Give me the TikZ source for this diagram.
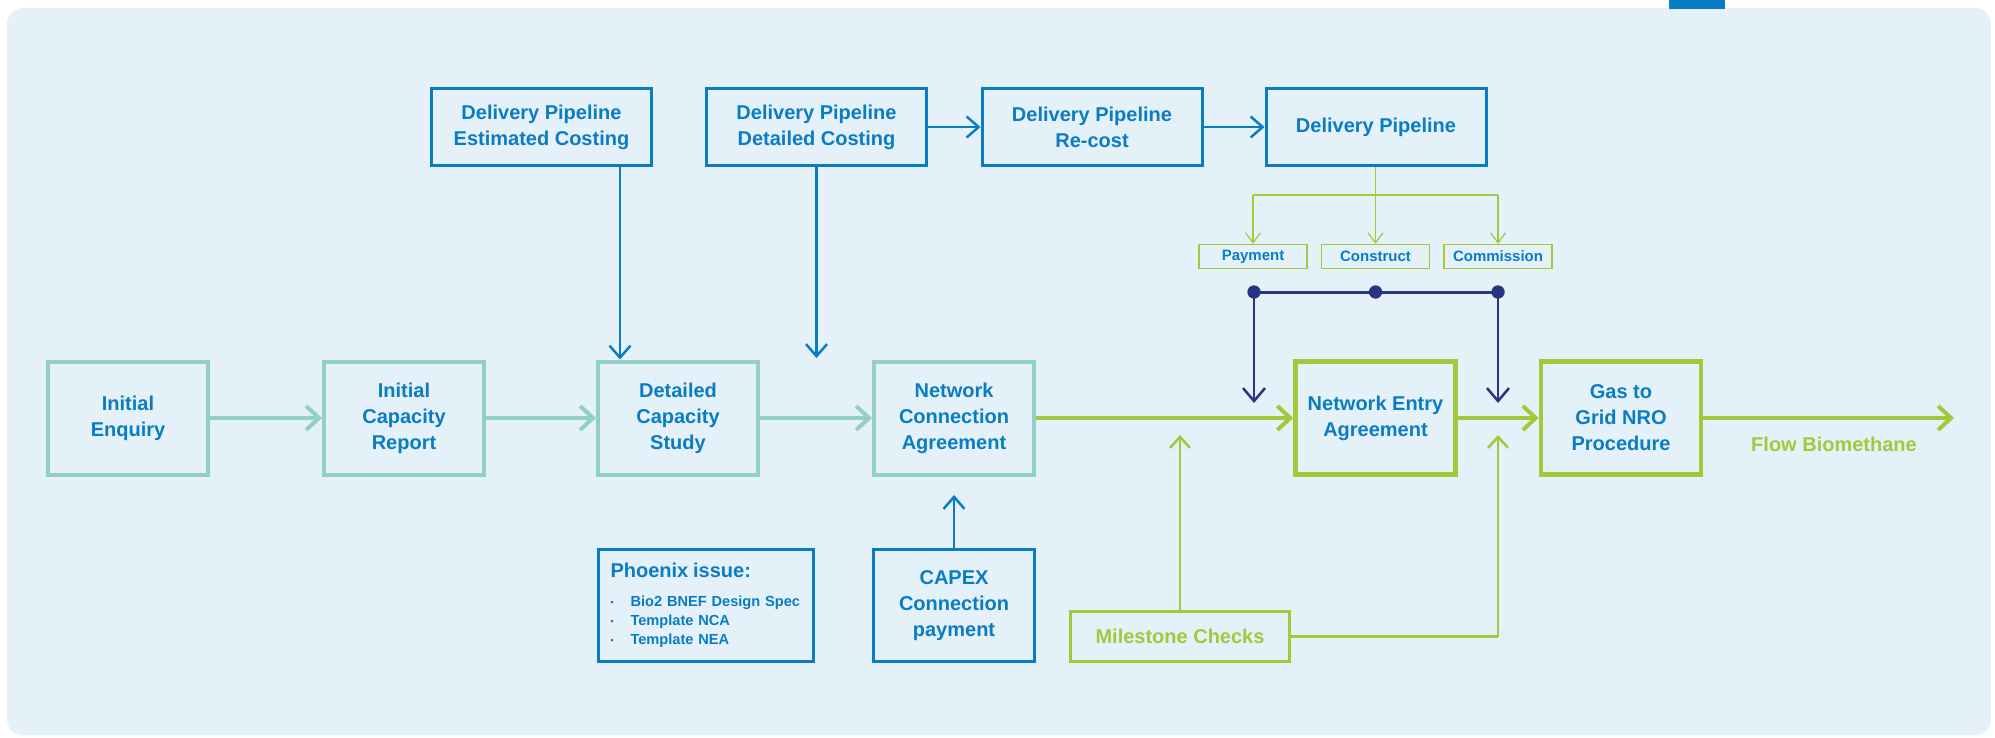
\documentclass[tikz,border=0pt]{standalone}
\usepackage{fontspec}
\setmainfont{Liberation Sans}
\usetikzlibrary{arrows.meta}
\definecolor{bgc}{HTML}{E4F1F9}
\definecolor{dblue}{HTML}{0A7CC4}
\definecolor{tealc}{HTML}{92D0C6}
\definecolor{lgreen}{HTML}{A3C83B}
\definecolor{navyc}{HTML}{283583}
\begin{document}
\begin{tikzpicture}[x=0.5pt,y=-0.5pt,
  txt/.style={font=\fontsize{10pt}{13pt}\selectfont\bfseries, text=dblue, align=center, inner sep=0pt},
  tealbox/.style={txt, draw=tealc, line width=2pt, minimum width=80pt, minimum height=56.5pt},
  greenbox/.style={txt, draw=lgreen, line width=2.25pt, minimum width=80pt, minimum height=56.5pt},
  topbox/.style={txt, draw=dblue, line width=1.5pt, minimum width=110pt, minimum height=38.5pt},
  smallbox/.style={txt, font=\fontsize{7.5pt}{9pt}\selectfont\bfseries, draw=lgreen, line width=0.75pt, minimum width=54pt, minimum height=12pt},
  bluebox/.style={txt, draw=dblue, line width=1.5pt},
  dotnode/.style={circle, fill=navyc, inner sep=0pt, minimum size=6.5pt},
  tealarrow/.style={draw=tealc, line width=2pt, -{Straight Barb[length=6.5pt,width=12pt]}},
  greenarrow/.style={draw=lgreen, line width=2pt, -{Straight Barb[length=6.5pt,width=12pt]}},
  greenup/.style={draw=lgreen, line width=1.25pt, -{Straight Barb[length=5.5pt,width=10pt]}},
  greenline/.style={draw=lgreen, line width=1.25pt},
  gthin/.style={draw=lgreen, line width=0.6pt},
  gthinarrow/.style={gthin, -{Straight Barb[length=5pt,width=7.5pt]}},
  bluearrow/.style={draw=dblue, line width=1.25pt, -{Straight Barb[length=6pt,width=10.5pt]}},
  navyline/.style={draw=navyc, line width=1.5pt},
  navyarrow/.style={draw=navyc, line width=1.25pt, -{Straight Barb[length=6.5pt,width=11pt]}}
]
\useasboundingbox (0,0) rectangle (1995,738);
% background
\fill[bgc, rounded corners=8pt] (7,8) rectangle (1991,735);
\fill[dblue] (1669,0) rectangle (1725,9);

% main row
\node[tealbox] (enq) at (128,418) {Initial\\Enquiry};
\node[tealbox] (icr) at (404,418) {Initial\\Capacity\\Report};
\node[tealbox] (dcs) at (678,418) {Detailed\\Capacity\\Study};
\node[tealbox] (nca) at (954,418) {Network\\Connection\\Agreement};
\node[greenbox] (nea) at (1375.5,418) {Network Entry\\Agreement};
\node[greenbox] (g2g) at (1621,418) {Gas to\\Grid NRO\\Procedure};

% top row
\node[topbox] (est) at (541.5,127) {Delivery Pipeline\\Estimated Costing};
\node[topbox] (det) at (816.5,127) {Delivery Pipeline\\Detailed Costing};
\node[topbox] (rec) at (1092,127) {Delivery Pipeline\\Re-cost};
\node[topbox] (dp) at (1376,127) {Delivery Pipeline};

% small boxes
\node[smallbox] (pay) at (1253,256.5) {Payment};
\node[smallbox] (con) at (1375.5,256.5) {Construct};
\node[smallbox] (com) at (1498,256.5) {Commission};

% bottom boxes
\node[bluebox, minimum width=107.5pt, minimum height=56pt, text width=95.5pt, align=left,
      font=\fontsize{7.3pt}{9.5pt}\selectfont\bfseries] (phx) at (706,605.5)
  {{\fontsize{10pt}{11pt}\selectfont Phoenix issue:}\\[5pt]
   \makebox[10pt][l]{\raisebox{0.2ex}{\scalebox{0.6}{\textbullet}}}Bio2 BNEF Design Spec\\
   \makebox[10pt][l]{\raisebox{0.2ex}{\scalebox{0.6}{\textbullet}}}Template NCA\\
   \makebox[10pt][l]{\raisebox{0.2ex}{\scalebox{0.6}{\textbullet}}}Template NEA};
\node[bluebox, minimum width=80.5pt, minimum height=56pt] (cap) at (954,605.5) {CAPEX\\Connection\\payment};
\node[txt, text=lgreen, draw=lgreen, line width=1.5pt, minimum width=109.5pt, minimum height=25pt] (ms) at (1180,636.5) {Milestone Checks};

% free ends
\coordinate (ax) at (620,0);
\coordinate (detend) at (816.5,358);
\coordinate (capend) at (954,495);
\coordinate (flowend) at (1954,418);
\coordinate (br) at (1375.5,195);
\coordinate (m1) at (1180,435);
\coordinate (m2) at (1498,435);
\coordinate (na1) at (1254,403);
\coordinate (na2) at (1498,403);

% main flow
\draw[tealarrow] (enq) -- (icr);
\draw[tealarrow] (icr) -- (dcs);
\draw[tealarrow] (dcs) -- (nca);
\draw[greenarrow] (nca) -- (nea);
\draw[greenarrow] (nea) -- (g2g);
\draw[greenarrow] (g2g) -- (flowend);
\node[txt, text=lgreen] (flow) at (1834,444) {Flow Biomethane};

% top arrows
\draw[bluearrow] (est.south -| ax) -- (dcs.north -| ax);
\draw[bluearrow] (det.south) -- (detend);
\draw[bluearrow] (det) -- (rec);
\draw[bluearrow] (rec) -- (dp);
\draw[bluearrow] (cap.north) -- (capend);

% branch to small boxes
\draw[gthinarrow] (con.north |- dp.south) -- (con.north);
\draw[gthin] (pay.north |- br) -- (com.north |- br);
\draw[gthinarrow] (pay.north |- br) -- (pay.north);
\draw[gthinarrow] (com.north |- br) -- (com.north);

% navy milestones
\node[dotnode] (d1) at (1254,292) {};
\node[dotnode] (d2) at (1375.5,292) {};
\node[dotnode] (d3) at (1498,292) {};
\draw[navyline] (d1.center) -- (d3.center);
\draw[navyarrow] (d1.center) -- (na1);
\draw[navyarrow] (d3.center) -- (na2);
\node[dotnode] at (d1) {};
\node[dotnode] at (d2) {};
\node[dotnode] at (d3) {};

% milestone checks
\draw[greenup] (ms.north) -- (m1);
\draw[greenline] (ms.east) -| (m2 |- ms.east);
\draw[greenup] (m2 |- ms.east) -- (m2);
\end{tikzpicture}
\end{document}
